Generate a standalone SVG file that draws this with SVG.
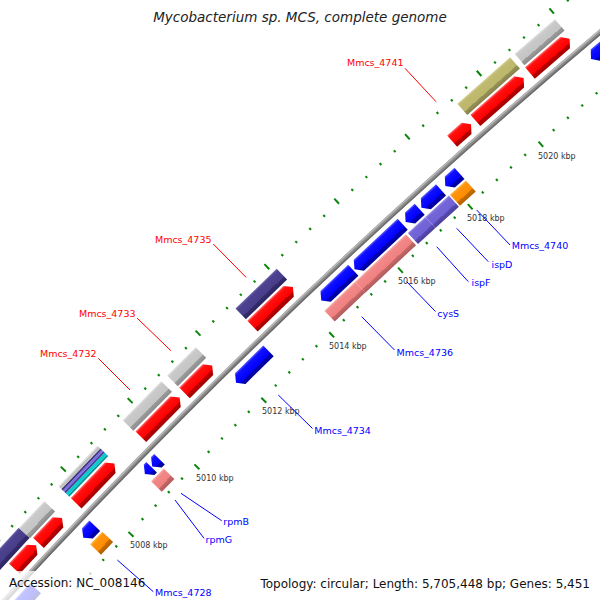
<svg xmlns="http://www.w3.org/2000/svg" xmlns:xlink="http://www.w3.org/1999/xlink" width="600" height="600" viewBox="0 0 600 600">
<style>
.tkl{stroke:#0a850a;stroke-width:2}
.lbR{font-family:"DejaVu Sans",sans-serif;font-size:9.5px;fill:#ff0000;text-anchor:end}
.lbB{font-family:"DejaVu Sans",sans-serif;font-size:9.5px;fill:#0000ff}
.kb{font-family:"DejaVu Sans",sans-serif;font-size:8px;fill:#333}
.cR{stroke:#ff0000;stroke-width:1;fill:none}
.cB{stroke:#0000ff;stroke-width:1;fill:none}
.ft{font-family:"DejaVu Sans",sans-serif;font-size:12px;fill:#111}
</style>
<defs>
<linearGradient id="gRed"><stop offset="0" stop-color="#a00000"/><stop offset=".3" stop-color="#c00000"/><stop offset=".3" stop-color="#ff0000"/><stop offset=".85" stop-color="#ff1010"/><stop offset="1" stop-color="#ff7070"/></linearGradient>
<linearGradient id="gGray"><stop offset="0" stop-color="#8a8a8a"/><stop offset=".3" stop-color="#9e9e9e"/><stop offset=".3" stop-color="#c4c4c4"/><stop offset=".85" stop-color="#cacaca"/><stop offset="1" stop-color="#e2e2e2"/></linearGradient>
<linearGradient id="gOlive"><stop offset="0" stop-color="#85814a"/><stop offset=".3" stop-color="#99945a"/><stop offset=".3" stop-color="#bdb76b"/><stop offset=".85" stop-color="#c0ba70"/><stop offset="1" stop-color="#d6d198"/></linearGradient>
<linearGradient id="gDS"><stop offset="0" stop-color="#2b2560"/><stop offset=".3" stop-color="#352d6c"/><stop offset=".3" stop-color="#483d8b"/><stop offset=".85" stop-color="#4c4290"/><stop offset="1" stop-color="#6e66aa"/></linearGradient>
<linearGradient id="gBlue"><stop offset="0" stop-color="#00009a"/><stop offset=".3" stop-color="#0000b8"/><stop offset=".3" stop-color="#0000ff"/><stop offset=".85" stop-color="#1010ff"/><stop offset="1" stop-color="#6060ff"/></linearGradient>
<linearGradient id="gPink"><stop offset="0" stop-color="#b05a5a"/><stop offset=".3" stop-color="#c86a6a"/><stop offset=".3" stop-color="#f08080"/><stop offset=".85" stop-color="#f28888"/><stop offset="1" stop-color="#f8b0b0"/></linearGradient>
<linearGradient id="gPurple"><stop offset="0" stop-color="#4a3e98"/><stop offset=".3" stop-color="#5a4cb4"/><stop offset=".3" stop-color="#7062d4"/><stop offset=".85" stop-color="#7466d8"/><stop offset="1" stop-color="#9a90e6"/></linearGradient>
<linearGradient id="gOrange"><stop offset="0" stop-color="#b05e00"/><stop offset=".3" stop-color="#cc7000"/><stop offset=".3" stop-color="#ff8c00"/><stop offset=".85" stop-color="#ff9410"/><stop offset="1" stop-color="#ffb850"/></linearGradient>
<g id="tL" class="tkl"><line x1="6590" y1="0" x2="6597" y2="0"/><line x1="6496" y1="0" x2="6503" y2="0"/></g>
<g id="tS" class="tkl"><line x1="6590" y1="0" x2="6592.5" y2="0"/><line x1="6500.5" y1="0" x2="6503" y2="0"/></g>
</defs>
<rect width="600" height="600" fill="#fff"/>
<g transform="translate(4812.2 5043.1)">
<g id="ticks">
<use href="#tL" transform="rotate(223.0936)"/>
<use href="#tS" transform="rotate(223.2599)"/>
<use href="#tS" transform="rotate(223.4262)"/>
<use href="#tS" transform="rotate(223.5926)"/>
<use href="#tS" transform="rotate(223.7589)"/>
<use href="#tL" transform="rotate(223.9252)"/>
<use href="#tS" transform="rotate(224.0915)"/>
<use href="#tS" transform="rotate(224.2578)"/>
<use href="#tS" transform="rotate(224.4242)"/>
<use href="#tS" transform="rotate(224.5905)"/>
<use href="#tL" transform="rotate(224.7568)"/>
<use href="#tS" transform="rotate(224.9231)"/>
<use href="#tS" transform="rotate(225.0894)"/>
<use href="#tS" transform="rotate(225.2558)"/>
<use href="#tS" transform="rotate(225.4221)"/>
<use href="#tL" transform="rotate(225.5884)"/>
<use href="#tS" transform="rotate(225.7547)"/>
<use href="#tS" transform="rotate(225.9210)"/>
<use href="#tS" transform="rotate(226.0874)"/>
<use href="#tS" transform="rotate(226.2537)"/>
<use href="#tL" transform="rotate(226.4200)"/>
<use href="#tS" transform="rotate(226.5863)"/>
<use href="#tS" transform="rotate(226.7526)"/>
<use href="#tS" transform="rotate(226.9190)"/>
<use href="#tS" transform="rotate(227.0853)"/>
<use href="#tL" transform="rotate(227.2516)"/>
<use href="#tS" transform="rotate(227.4179)"/>
<use href="#tS" transform="rotate(227.5842)"/>
<use href="#tS" transform="rotate(227.7506)"/>
<use href="#tS" transform="rotate(227.9169)"/>
<use href="#tL" transform="rotate(228.0832)"/>
<use href="#tS" transform="rotate(228.2495)"/>
<use href="#tS" transform="rotate(228.4158)"/>
<use href="#tS" transform="rotate(228.5822)"/>
<use href="#tS" transform="rotate(228.7485)"/>
<use href="#tL" transform="rotate(228.9148)"/>
<use href="#tS" transform="rotate(229.0811)"/>
<use href="#tS" transform="rotate(229.2474)"/>
<use href="#tS" transform="rotate(229.4138)"/>
<use href="#tS" transform="rotate(229.5801)"/>
<use href="#tL" transform="rotate(229.7464)"/>
<use href="#tS" transform="rotate(229.9127)"/>
</g>
<g id="backbone" fill="none">
<circle r="6546" stroke="#8c8c8c" stroke-width="5"/>
<circle r="6547.6" stroke="#b8b8b8" stroke-width="1.6"/>
<circle r="6544.3" stroke="#6c6c6c" stroke-width="1.4"/>
</g>
<!-- outer lane 2 -->
<g id="f-o2-purple" transform="rotate(222.678)"><rect x="6570" width="15" height="70.2" fill="url(#gDS)"/></g>
<g id="f-o2-gray1" transform="rotate(223.289)"><rect x="6570" width="15" height="36.75" fill="url(#gGray)"/></g>
<g id="f-o2-striped" transform="rotate(223.788)">
<rect x="6570" width="2" height="56.3" fill="#0a9499"/>
<rect x="6572" width="3" height="56.3" fill="#00ced1"/>
<rect x="6575" width="2" height="56.3" fill="#483d8b"/>
<rect x="6577" width="2" height="56.3" fill="#7b68ee"/>
<rect x="6579" width="2" height="56.3" fill="#3f3680"/>
<rect x="6581" width="3" height="56.3" fill="#c2c2c2"/>
<rect x="6584" width="1" height="56.3" fill="#dedede"/>
</g>
<g id="f-o2-gray2" transform="rotate(224.590)"><rect x="6570" width="15" height="54.9" fill="url(#gGray)"/></g>
<g id="f-o2-gray3" transform="rotate(225.139)"><rect x="6570" width="15" height="40.1" fill="url(#gGray)"/></g>
<g id="f-o2-slate" transform="rotate(225.971)"><rect x="6570" width="15" height="57.3" fill="url(#gDS)"/></g>
<g id="f-o2-olive" transform="rotate(228.599)"><rect x="6570" width="15" height="70.2" fill="url(#gOlive)"/></g>
<g id="f-o2-gray4" transform="rotate(229.260)"><rect x="6570" width="15" height="53" fill="url(#gGray)"/></g>
<!-- outer lane 1 forward genes -->
<g fill="url(#gRed)">
<g id="f-r1" transform="rotate(223.002)"><path d="M6553,0H6568V25.9L6560.5,31.9L6553,25.9Z"/></g>
<g id="f-r2" transform="rotate(223.310)"><path d="M6553,0H6568V28.3L6560.5,34.3L6553,28.3Z"/></g>
<g id="f-r3" transform="rotate(223.788)"><path d="M6553,0H6568V49.2L6560.5,55.2L6553,49.2Z"/></g>
<g id="Mmcs_4732" transform="rotate(224.599)"><path d="M6553,0H6568V49.2L6560.5,55.2L6553,49.2Z"/></g>
<g id="Mmcs_4733" transform="rotate(225.139)"><path d="M6553,0H6568V33L6560.5,39L6553,33Z"/></g>
<g id="Mmcs_4735" transform="rotate(225.971)"><path d="M6553,0H6568V50.2L6560.5,56.2L6553,50.2Z"/></g>
<g id="Mmcs_4741" transform="rotate(228.349)"><path d="M6553,0H6568V19.2L6560.5,25.2L6553,19.2Z"/></g>
<g id="f-r8" transform="rotate(228.620)"><path d="M6553,0H6568V58.3L6560.5,64.3L6553,58.3Z"/></g>
<g id="f-r9" transform="rotate(229.252)"><path d="M6553,0H6568V46.4L6560.5,52.4L6553,46.4Z"/></g>
</g>
<!-- inner lane 1 reverse genes -->
<g fill="url(#gBlue)">
<g id="f-b0" transform="rotate(222.595)"><path d="M6531.5,0L6539,6V46.5H6524V6Z"/></g>
<g id="Mmcs_4728" transform="rotate(223.613)"><path d="M6531.5,0L6539,6V16.6H6524V6Z"/></g>
<g id="rpmG" transform="rotate(224.391)"><path d="M6531.5,0L6539,6V9.5H6524V6Z"/></g>
<g id="rpmB" transform="rotate(224.482)"><path d="M6531.5,0L6539,6V10.4H6524V6Z"/></g>
<g id="Mmcs_4734" transform="rotate(225.522)"><path d="M6531.5,0L6539,6V45.5H6524V6Z"/></g>
<g id="Mmcs_4736" transform="rotate(226.561)"><path d="M6531.5,0L6539,6V44.1H6524V6Z"/></g>
<g id="cysS" transform="rotate(226.961)"><path d="M6531.5,0L6539,6V65.9H6524V6Z"/></g>
<g id="ispF" transform="rotate(227.572)"><path d="M6531.5,0L6539,6V19H6524V6Z"/></g>
<g id="ispD" transform="rotate(227.759)"><path d="M6531.5,0L6539,6V26.5H6524V6Z"/></g>
<g id="Mmcs_4740" transform="rotate(228.042)"><path d="M6531.5,0L6539,6V19H6524V6Z"/></g>
<g id="f-bt" transform="rotate(229.738)"><path d="M6531.5,0L6539,6V48H6524V6Z"/></g>
</g>
<!-- inner lane 2 -->
<g id="f-i2-orange1" transform="rotate(223.613)"><rect x="6507" width="15" height="17.5" fill="url(#gOrange)"/></g>
<g id="f-i2-pink1" transform="rotate(224.383)"><rect x="6507" width="15" height="18" fill="url(#gPink)"/></g>
<g id="f-i2-pink2" transform="rotate(226.520)"><rect x="6507" width="15" height="42.1" fill="url(#gPink)"/></g>
<g id="f-i2-pink3" transform="rotate(226.890)"><rect x="6507" width="15" height="69.5" fill="url(#gPink)"/></g>
<g id="f-i2-purple1" transform="rotate(227.522)"><rect x="6507" width="15" height="23.6" fill="url(#gPurple)"/></g>
<g id="f-i2-purple2" transform="rotate(227.730)"><rect x="6507" width="15" height="31.7" fill="url(#gPurple)"/></g>
<g id="f-i2-orange2" transform="rotate(228.021)"><rect x="6507" width="15" height="21.3" fill="url(#gOrange)"/></g>
</g>
<g id="kbp-labels" class="kb">
<text x="130" y="548">5008 kbp</text>
<text x="196" y="481">5010 kbp</text>
<text x="262" y="414">5012 kbp</text>
<text x="329" y="349">5014 kbp</text>
<text x="398" y="284">5016 kbp</text>
<text x="467" y="221">5018 kbp</text>
<text x="538" y="159">5020 kbp</text>
</g>
<rect id="footer-band" x="0" y="571" width="600" height="29" fill="#fff" fill-opacity="0.75"/>
<g id="connectors">
<path class="cR" d="M436,101.7L405,68.3"/>
<path class="cR" d="M246,277.3L213.3,244"/>
<path class="cR" d="M170.9,350.7L137,318"/>
<path class="cR" d="M130,390L98.3,358.3"/>
<path class="cB" d="M117.3,560L153.3,591.7"/>
<path class="cB" d="M175,500L204,538.3"/>
<path class="cB" d="M181,493.3L221.7,520.7"/>
<path class="cB" d="M278.3,395L312.5,428.5"/>
<path class="cB" d="M361.7,316.7L394.5,350"/>
<path class="cB" d="M406.7,281.7L435.5,311.5"/>
<path class="cB" d="M436.7,246.7L468.3,281.7"/>
<path class="cB" d="M456.7,228.3L488.3,261.7"/>
<path class="cB" d="M476.7,210L510,245"/>
</g>
<g id="labels">
<text class="lbR" x="403.5" y="66">Mmcs_4741</text>
<text class="lbR" x="211.5" y="242.5">Mmcs_4735</text>
<text class="lbR" x="135.5" y="316.5">Mmcs_4733</text>
<text class="lbR" x="96.5" y="357">Mmcs_4732</text>
<text class="lbB" x="155" y="596">Mmcs_4728</text>
<text class="lbB" x="205.5" y="542.5">rpmG</text>
<text class="lbB" x="223.3" y="524.5">rpmB</text>
<text class="lbB" x="314.3" y="433.5">Mmcs_4734</text>
<text class="lbB" x="396.5" y="355.5">Mmcs_4736</text>
<text class="lbB" x="437.3" y="317">cysS</text>
<text class="lbB" x="471.5" y="286">ispF</text>
<text class="lbB" x="491.5" y="268">ispD</text>
<text class="lbB" x="511.7" y="248.5">Mmcs_4740</text>
</g>
<text x="300" y="22" text-anchor="middle" font-family="DejaVu Sans, sans-serif" font-style="italic" font-size="13.5" fill="#222">Mycobacterium sp. MCS, complete genome</text>
<text class="ft" x="9" y="587">Accession: NC_008146</text>
<text class="ft" x="590" y="588" text-anchor="end">Topology: circular; Length: 5,705,448 bp; Genes: 5,451</text>
</svg>
